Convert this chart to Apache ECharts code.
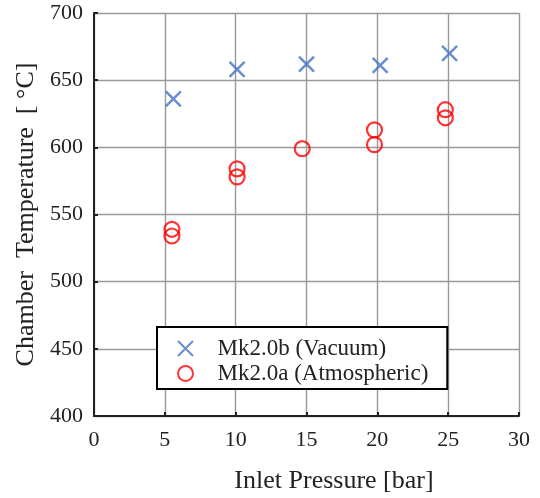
<!DOCTYPE html>
<html>
<head>
<meta charset="utf-8">
<script src="https://cdn.jsdelivr.net/npm/echarts@6/dist/echarts.min.js"></script>
<style>
  html, body { margin: 0; padding: 0; background: #fff; }
  #chart { width: 540px; height: 498px; }
</style>
</head>
<body>
<div id="chart"></div>
<script>
// data
const vacuumPressure = [5.6, 10.1, 15.0, 20.2, 25.1];
const vacuumTemp = [636, 658, 662, 661, 670];
const atmPressure = [5.5, 5.5, 10.1, 10.1, 14.7, 19.8, 19.8, 24.8, 24.8];
const atmTemp = [539, 534, 584, 578, 599, 613, 602, 628, 622];
const xTicks = [0, 30, 5];   // min, max, step
const yTicks = [400, 700, 50];

const seriesNames = ['Mk2.0b (Vacuum)', 'Mk2.0a (Atmospheric)'];

const font = 'Liberation Serif';
const crossPath = 'path://M0,0 L10,10 M10,0 L0,10';

let chart = echarts.init(document.getElementById('chart'));
let option = {
  animation: false,
  grid: { left: 94, right: 21, top: 13, bottom: 82, outerBoundsMode: 'none' },
  xAxis: {
    type: 'value',
    min: xTicks[0], max: xTicks[1], interval: xTicks[2],
    name: 'Inlet Pressure [bar]',
    nameLocation: 'middle',
    nameGap: 52,
    nameTextStyle: { fontFamily: font, fontSize: 26, color: '#222', padding: [0, 0, 0, 55] },
    axisLine: { onZero: false, lineStyle: { color: '#222', width: 2 } },
    axisTick: { inside: true, length: 4, lineStyle: { color: '#222', width: 2 } },
    axisLabel: { fontFamily: font, fontSize: 22, color: '#222', margin: 13 },
    splitLine: { show: true, lineStyle: { color: '#999', width: 1.4 } }
  },
  yAxis: {
    type: 'value',
    min: yTicks[0], max: yTicks[1], interval: yTicks[2],
    name: 'Chamber  Temperature  [ °C]',
    nameLocation: 'middle',
    nameGap: 55,
    nameTextStyle: { fontFamily: font, fontSize: 26, color: '#222' },
    axisLine: { show: true, onZero: false, lineStyle: { color: '#222', width: 2 } },
    axisTick: { show: true, inside: true, length: 4, lineStyle: { color: '#222', width: 2 } },
    axisLabel: { fontFamily: font, fontSize: 22, color: '#222', margin: 11 },
    splitLine: { show: true, lineStyle: { color: '#999', width: 1.4 } }
  },
  legend: {
    orient: 'vertical',
    left: 157,
    top: 327,
    padding: [10, 19, 4, 20],
    itemWidth: 54,
    itemHeight: 15,
    itemGap: 2,
    borderColor: '#000',
    borderWidth: 2,
    backgroundColor: '#fff',
    textStyle: { fontFamily: font, fontSize: 23, color: '#222' },
    data: seriesNames
  },
  series: [
    {
      name: seriesNames[0],
      type: 'scatter',
      symbol: crossPath,
      symbolSize: 15,
      itemStyle: { color: 'rgba(0,0,0,0)', borderColor: '#4472C4', borderWidth: 2.5 },
      data: vacuumPressure.map((x, i) => [x, vacuumTemp[i]])
    },
    {
      name: seriesNames[1],
      type: 'scatter',
      symbol: 'circle',
      symbolSize: 15,
      itemStyle: { color: 'rgba(0,0,0,0)', borderColor: '#FF0000', borderWidth: 2.2 },
      data: atmPressure.map((x, i) => [x, atmTemp[i]])
    }
  ]
};
chart.setOption(option);
</script>
</body>
</html>
